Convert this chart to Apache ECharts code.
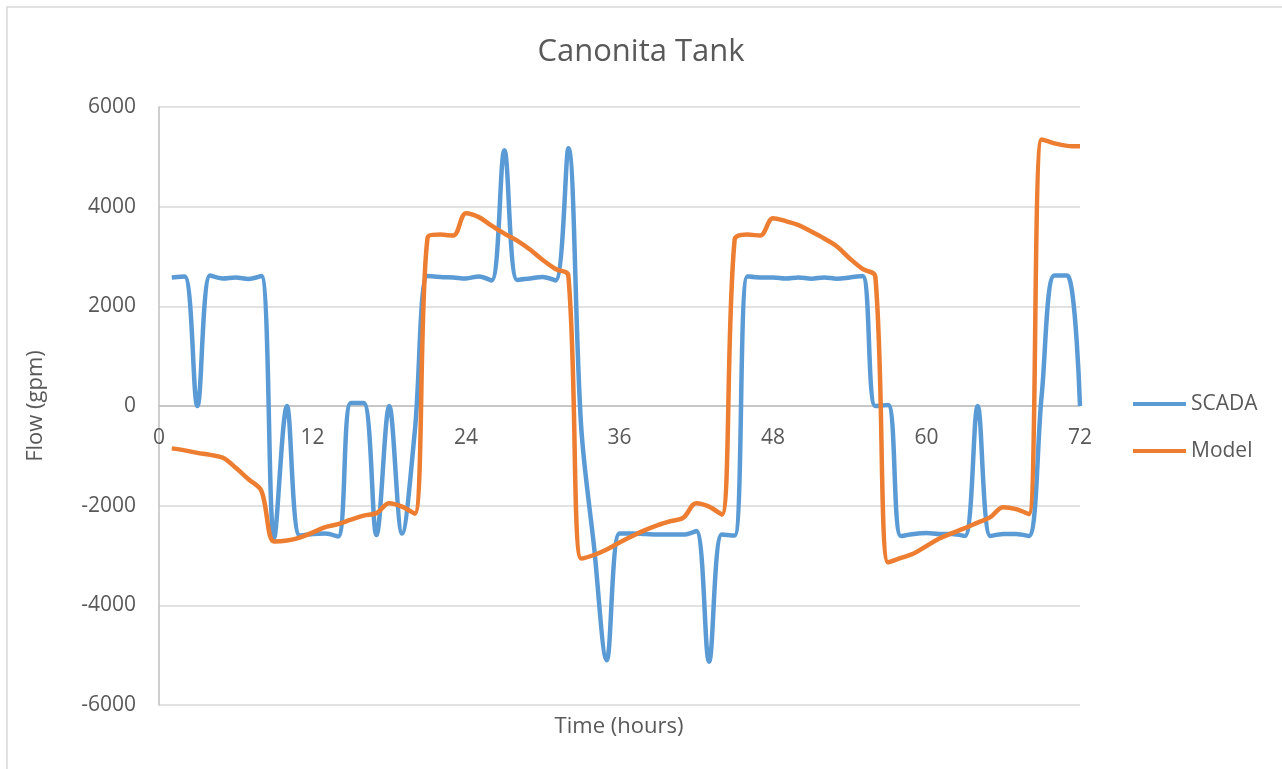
<!DOCTYPE html>
<html>
<head>
<meta charset="UTF-8">
<title>Canonita Tank</title>
<script type="text/javascript" src="https://cdn.jsdelivr.net/npm/echarts@6/dist/echarts.min.js"></script>
<style>
	html, body { margin: 0; padding: 0; background: #fff; }
</style>
</head>
<body>
<div id="main" style="width: 1282px; height: 769px"></div>

<script type="text/javascript">
	// hours
	var hours = [1, 2, 3, 4, 5, 6, 7, 8, 9, 10, 11, 12,
		13, 14, 15, 16, 17, 18, 19, 20, 21, 22, 23, 24,
		25, 26, 27, 28, 29, 30, 31, 32, 33, 34, 35, 36,
		37, 38, 39, 40, 41, 42, 43, 44, 45, 46, 47, 48,
		49, 50, 51, 52, 53, 54, 55, 56, 57, 58, 59, 60,
		61, 62, 63, 64, 65, 66, 67, 68, 69, 70, 71, 72];

	// SCADA flow (gpm)
	var scada = [2580, 2600, 0, 2620, 2560, 2580, 2550, 2610, -2650, 0, -2600, -2570,
		-2560, -2620, 60, 60, -2590, 0, -2560, -500, 2610, 2590, 2580, 2560,
		2600, 2520, 5130, 2530, 2560, 2590, 2520, 5170, -400, -2800, -5100, -2560,
		-2560, -2570, -2580, -2580, -2580, -2510, -5130, -2580, -2600, 2600, 2580, 2580,
		2560, 2580, 2555, 2580, 2555, 2580, 2610, 0, 20, -2610, -2570, -2550,
		-2570, -2570, -2610, 0, -2610, -2570, -2570, -2610, 200, 2620, 2620, 0];

	// Model flow (gpm)
	var model = [-850, -890, -940, -980, -1040, -1240, -1470, -1700, -2720, -2700, -2640, -2540,
		-2430, -2370, -2280, -2200, -2150, -1950, -2020, -2160, 3380, 3440, 3420, 3870,
		3790, 3620, 3460, 3320, 3140, 2930, 2750, 2620, -3060, -2990, -2880, -2740,
		-2610, -2490, -2390, -2310, -2240, -1950, -2020, -2180, 3340, 3440, 3420, 3770,
		3710, 3630, 3500, 3360, 3200, 2960, 2750, 2600, -3140, -3050, -2960, -2810,
		-2660, -2550, -2450, -2340, -2230, -2030, -2070, -2170, 5350, 5270, 5220, 5210];

	function pairs(ys) {
		var out = [];
		for (var i = 0; i < hours.length; i++) {
			out.push([hours[i], ys[i]]);
		}
		return out;
	}

	var font = '"Open Sans", sans-serif';
	var grey = '#595959';

	var mychart = echarts.init(document.getElementById('main'));
	var option = {
		animation: false,
		title: {
			text: 'Canonita Tank',
			left: 'center',
			top: 32,
			textStyle: { fontFamily: font, fontSize: 31, fontWeight: 'normal', color: grey }
		},
		legend: {
			data: ['SCADA', 'Model'],
			orient: 'vertical',
			left: 1133,
			top: 392,
			padding: 0,
			icon: 'rect',
			itemWidth: 53,
			itemHeight: 4,
			itemGap: 23,
			textStyle: { fontFamily: font, fontSize: 21, color: grey, lineHeight: 24 }
		},
		grid: { left: 159, right: 202, top: 107, bottom: 64 },
		xAxis: {
			type: 'value',
			min: 0,
			max: 72,
			interval: 12,
			// x axis sits on the zero line
			position: 'bottom',
			offset: -299,
			axisLine: { onZero: false, lineStyle: { color: '#bfbfbf', width: 1.5 } },
			axisTick: { show: false },
			splitLine: { show: false },
			axisLabel: { margin: 22, fontFamily: font, fontSize: 21, color: grey }
		},
		yAxis: {
			type: 'value',
			min: -6000,
			max: 6000,
			interval: 2000,
			axisLine: { show: true, onZero: false, lineStyle: { color: '#bfbfbf', width: 1.5 } },
			axisTick: { show: false },
			splitLine: { lineStyle: { color: '#d9d9d9', width: 1.5 } },
			axisLabel: {
				margin: 23, fontFamily: font, fontSize: 21, color: grey,
				formatter: function (v) { return String(v); }
			}
		},
		graphic: [
			{
				type: 'rect',
				shape: { x: 7, y: 7, width: 1300, height: 800 },
				style: { fill: 'none', stroke: '#d9d9d9', lineWidth: 1.5 },
				silent: true
			},
			{
				type: 'text',
				x: 36,
				y: 406,
				rotation: Math.PI / 2,
				style: {
					text: 'Flow (gpm)',
					fontFamily: font,
					fontSize: 22,
					fill: grey,
					align: 'center',
					verticalAlign: 'middle'
				}
			},
			{
				type: 'text',
				x: 619,
				y: 727,
				style: {
					text: 'Time (hours)',
					fontFamily: font,
					fontSize: 22,
					fill: grey,
					align: 'center',
					verticalAlign: 'middle'
				}
			}
		],
		series: [{
			name: 'SCADA',
			type: 'line',
			smooth: 0.35,
			symbol: 'none',
			lineStyle: { color: '#5b9bd5', width: 4.5 },
			itemStyle: { color: '#5b9bd5' },
			data: pairs(scada)
		},
		{
			name: 'Model',
			type: 'line',
			smooth: 0.35,
			symbol: 'none',
			lineStyle: { color: '#ed7d31', width: 4.5 },
			itemStyle: { color: '#ed7d31' },
			data: pairs(model)
		}]
	};

	mychart.setOption(option);
</script>
</body>
</html>
